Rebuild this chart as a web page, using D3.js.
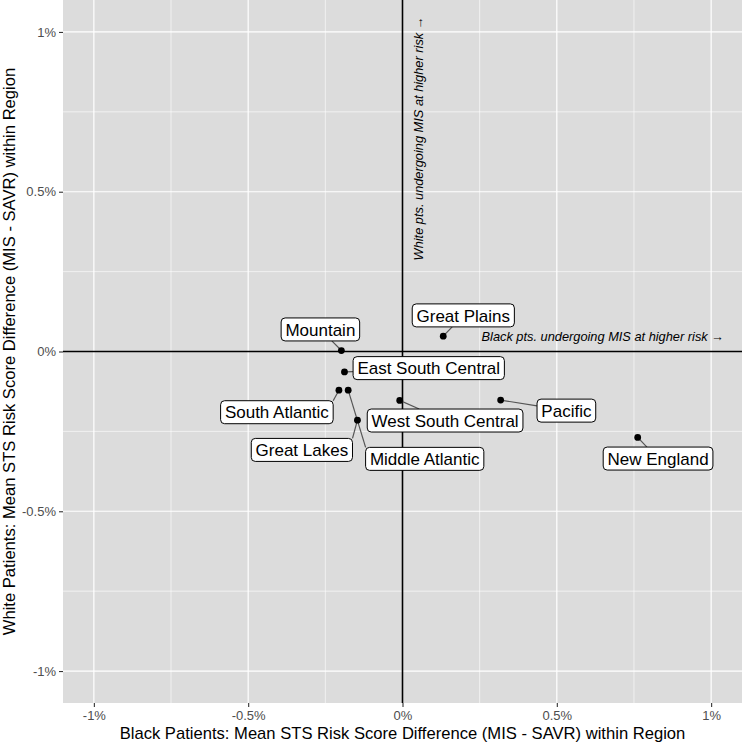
<!DOCTYPE html>
<html>
<head>
<meta charset="utf-8">
<script src="https://cdn.jsdelivr.net/npm/d3@7"></script>
<style>
  body { margin: 0; background: #fff; }
  text { font-family: "Liberation Sans", Arial, Helvetica, sans-serif; }
</style>
</head>
<body>
<svg id="chart"></svg>
<script>
// regions and their mean risk score differences (MIS - SAVR), in percent
const regions = ["Mountain", "Great Plains", "East South Central", "South Atlantic", "Middle Atlantic",
                 "Great Lakes", "West South Central", "Pacific", "New England"];
const blackDiff = [-0.198, 0.132, -0.188, -0.206, -0.176, -0.146, -0.009, 0.318, 0.762];
const whiteDiff = [0.003, 0.048, -0.064, -0.121, -0.121, -0.215, -0.153, -0.152, -0.269];
// where the repelled label boxes ended up (data units)
const labelX = [-0.266, 0.197, 0.085, -0.407, 0.072, -0.326, 0.138, 0.531, 0.828];
const labelY = [0.069, 0.113, -0.052, -0.190, -0.336, -0.308, -0.216, -0.185, -0.335];

const majorTicks = [-1, -0.5, 0, 0.5, 1];
const minorTicks = [-0.75, -0.25, 0.25, 0.75];

const W = 744, H = 744;
const margin = { top: 0, right: 2, bottom: 41, left: 63 };
const width = W - margin.left - margin.right;
const height = H - margin.top - margin.bottom;

const svg = d3.select("#chart").attr("width", W).attr("height", H);

const x = d3.scaleLinear().domain([-1.1, 1.1]).range([0, width]);
const y = d3.scaleLinear().domain([-1.1, 1.1]).range([height, 0]);

const g = svg.append("g").attr("transform", `translate(${margin.left},${margin.top})`);

// panel
g.append("rect").attr("width", width).attr("height", height).attr("fill", "#dcdcdc");

// grid
g.selectAll("line.minx").data(minorTicks).join("line")
  .attr("x1", d => x(d)).attr("x2", d => x(d)).attr("y1", 0).attr("y2", height)
  .attr("stroke", "#fff").attr("stroke-width", 0.6);
g.selectAll("line.miny").data(minorTicks).join("line")
  .attr("y1", d => y(d)).attr("y2", d => y(d)).attr("x1", 0).attr("x2", width)
  .attr("stroke", "#fff").attr("stroke-width", 0.6);
g.selectAll("line.majx").data(majorTicks).join("line")
  .attr("x1", d => x(d)).attr("x2", d => x(d)).attr("y1", 0).attr("y2", height)
  .attr("stroke", "#fff").attr("stroke-width", 1.2);
g.selectAll("line.majy").data(majorTicks).join("line")
  .attr("y1", d => y(d)).attr("y2", d => y(d)).attr("x1", 0).attr("x2", width)
  .attr("stroke", "#fff").attr("stroke-width", 1.2);

// zero reference lines
g.append("line").attr("x1", x(0)).attr("x2", x(0)).attr("y1", 0).attr("y2", height)
  .attr("stroke", "#000").attr("stroke-width", 1.6);
g.append("line").attr("x1", 0).attr("x2", width).attr("y1", y(0)).attr("y2", y(0))
  .attr("stroke", "#000").attr("stroke-width", 1.6);

// axes (plain hyphen, like the R output)
const fmt = d => String(d) + "%";
const xAxis = d3.axisBottom(x).tickValues(majorTicks).tickFormat(fmt).tickSize(4).tickPadding(4);
const yAxis = d3.axisLeft(y).tickValues(majorTicks).tickFormat(fmt).tickSize(4).tickPadding(3);

const xAxisG = g.append("g").attr("transform", `translate(0,${height})`).call(xAxis);
const yAxisG = g.append("g").call(yAxis);
[xAxisG, yAxisG].forEach(a => {
  a.select(".domain").remove();
  a.selectAll(".tick line").attr("stroke", "#333").attr("stroke-width", 1.1);
  a.selectAll(".tick text").attr("fill", "#4d4d4d").style("font-size", "13px")
    .style("font-family", "'Liberation Sans', Arial, sans-serif");
});

// axis titles
svg.append("text")
  .attr("x", margin.left + width / 2).attr("y", 739)
  .attr("text-anchor", "middle").style("font-size", "16.6px")
  .text("Black Patients: Mean STS Risk Score Difference (MIS - SAVR) within Region");
svg.append("text")
  .attr("transform", `translate(15,${margin.top + height / 2}) rotate(-90)`)
  .attr("text-anchor", "middle").style("font-size", "16.6px")
  .text("White Patients: Mean STS Risk Score Difference (MIS - SAVR) within Region");

// direction annotations
g.append("text")
  .attr("transform", `translate(${x(0.05) + 5},${y(0.285)}) rotate(-90)`)
  .attr("text-anchor", "start").style("font-size", "12.8px").style("font-style", "italic")
  .text("White pts. undergoing MIS at higher risk \u2192");
g.append("text")
  .attr("x", x(0.256)).attr("y", y(0.046)).attr("dy", "0.35em")
  .attr("text-anchor", "start").style("font-size", "12.8px").style("font-style", "italic")
  .text("Black pts. undergoing MIS at higher risk \u2192");

// labels: measure text first so boxes fit
const data = regions.map((r, i) => ({
  name: r, bx: blackDiff[i], wy: whiteDiff[i], lx: labelX[i], ly: labelY[i]
}));

const pad = 4.3, boxH = 23;
const labelG = g.append("g");
const labels = labelG.selectAll("g").data(data).join("g");
const texts = labels.append("text")
  .attr("x", d => x(d.lx)).attr("y", d => y(d.ly)).attr("dy", "0.36em")
  .attr("text-anchor", "middle").style("font-size", "17px")
  .text(d => d.name);
texts.each(function(d) { d.w = this.getComputedTextLength() + 2 * pad; });

// segment end: corner when the point sits diagonally off the box,
// otherwise the line towards the label centre clipped at the box edge
function edgePoint(d) {
  const px = x(d.bx), py = y(d.wy), cx = x(d.lx), cy = y(d.ly);
  const x0 = cx - d.w / 2, x1 = cx + d.w / 2, y0 = cy - boxH / 2, y1 = cy + boxH / 2;
  const outX = px < x0 || px > x1, outY = py < y0 || py > y1;
  if (outX && outY) return [px < x0 ? x0 : x1, py < y0 ? y0 : y1];
  const dx = px - cx, dy = py - cy;
  const sx = dx === 0 ? Infinity : (d.w / 2) / Math.abs(dx);
  const sy = dy === 0 ? Infinity : (boxH / 2) / Math.abs(dy);
  const s = Math.min(sx, sy);
  return [cx + dx * s, cy + dy * s];
}
g.insert("g", () => labelG.node()).selectAll("line").data(data).join("line")
  .attr("x1", d => x(d.bx)).attr("y1", d => y(d.wy))
  .attr("x2", d => edgePoint(d)[0]).attr("y2", d => edgePoint(d)[1])
  .attr("stroke", "#555").attr("stroke-width", 1.2);

g.insert("g", () => labelG.node()).selectAll("circle").data(data).join("circle")
  .attr("cx", d => x(d.bx)).attr("cy", d => y(d.wy)).attr("r", 3.4)
  .attr("fill", "#000");

labels.insert("rect", "text")
  .attr("x", d => x(d.lx) - d.w / 2).attr("y", d => y(d.ly) - boxH / 2)
  .attr("width", d => d.w).attr("height", boxH)
  .attr("rx", 4).attr("ry", 4)
  .attr("fill", "#fff").attr("stroke", "#000").attr("stroke-width", 1);
</script>
</body>
</html>
